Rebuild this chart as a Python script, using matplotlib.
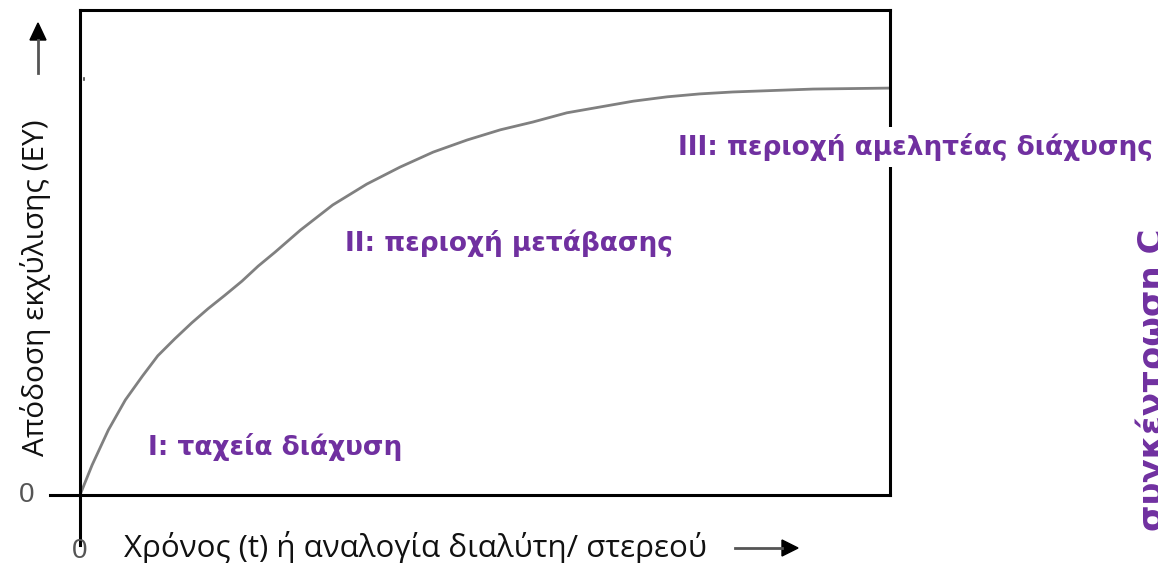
import matplotlib.pyplot as plt

# curve (x: 0..10, y: 0..1 of the axes height)
t_vals = [0.0, 0.15, 0.35, 0.56, 0.77, 0.96, 1.17, 1.38, 1.58, 1.79, 2.0, 2.2,
          2.41, 2.72, 3.12, 3.54, 3.95, 4.36, 4.78, 5.19, 5.59, 6.01, 6.42,
          6.83, 7.25, 7.65, 8.06, 9.05, 10.0]
ey_vals = [0.0, 0.062, 0.134, 0.196, 0.245, 0.287, 0.322, 0.355, 0.384, 0.412,
           0.441, 0.472, 0.501, 0.546, 0.598, 0.641, 0.676, 0.707, 0.732, 0.753,
           0.769, 0.788, 0.800, 0.812, 0.821, 0.827, 0.831, 0.837, 0.839]

region_labels = ['I: ταχεία διάχυση', 'II: περιοχή μετάβασης',
                 'III: περιοχή αμελητέας διάχυσης']
x_label = 'Χρόνος (t) ή αναλογία διαλύτη/ στερεού'
y_label = 'Απόδοση εκχύλισης (ΕΥ)'
side_label = 'συγκέντρωση C'

purple = '#7030A0'
W, H = 1158, 563


def fx(px):
    return px / W


def fy(py):
    return 1 - py / H


fig = plt.figure(figsize=(11.58, 5.63), dpi=100)
ax = fig.add_axes([fx(80), 68 / H, 810 / W, 485 / H])
ax.set_xlim(0, 10)
ax.set_ylim(0, 1)
ax.set_xticks([])
ax.set_yticks([])
for s in ax.spines.values():
    s.set_linewidth(2.2)
    s.set_color('black')

ax.plot(t_vals, ey_vals, color='#808080', lw=2.0, solid_capstyle='round')

# extended axis lines
ax.plot([-30 / 81, 0], [0, 0], color='black', lw=2.2, clip_on=False)
ax.plot([0, 0], [-50 / 485, 0], color='black', lw=2.2, clip_on=False)
ax.plot([4 / 81, 4 / 81], [0.855, 0.860], color='#444444', lw=1.2)

# region labels
lab_font = dict(family=['DejaVu Sans'], fontweight='bold', color=purple)
fig.text(fx(148), fy(447), region_labels[0], ha='left', va='center', fontsize=19, **lab_font)
fig.text(fx(345), fy(243), region_labels[1], ha='left', va='center', fontsize=19, **lab_font)
fig.text(fx(678), fy(147), region_labels[2], ha='left', va='center', fontsize=19,
         bbox=dict(facecolor='white', edgecolor='none', pad=4), **lab_font)
# this one runs off the right edge in the original too
fig.text(fx(1135), fy(380), side_label, rotation=90, ha='left', va='center',
         fontsize=24.5, **lab_font)

# axis texts
ax_font = dict(family=['Open Sans', 'DejaVu Sans'], color='#111111')
fig.text(fx(124), fy(548), x_label, ha='left', va='center', fontsize=22.5, **ax_font)
fig.text(fx(36), fy(288), y_label, rotation=90, ha='center', va='center',
         fontsize=21.5, **ax_font)
zero_font = dict(family=['Liberation Sans', 'DejaVu Sans'], color='#555555', fontsize=20)
fig.text(fx(27), fy(495), '0', ha='center', va='center', **zero_font)
fig.text(fx(80), fy(551), '0', ha='center', va='center', **zero_font)

# arrows
fig.add_artist(plt.Line2D([fx(735), fx(782)], [fy(548)] * 2,
                          color='#555555', lw=2.0))
fig.patches.append(plt.Polygon([[fx(782), fy(540)], [fx(798), fy(548)],
                                [fx(782), fy(556)]], closed=True,
                               color='black', transform=fig.transFigure))
fig.add_artist(plt.Line2D([fx(38)] * 2, [fy(73), fy(40)],
                          color='#555555', lw=2.0))
fig.patches.append(plt.Polygon([[fx(30), fy(40)], [fx(38), fy(23)],
                                [fx(46), fy(40)]], closed=True,
                               color='black', transform=fig.transFigure))

fig.savefig('out.png', dpi=100)
